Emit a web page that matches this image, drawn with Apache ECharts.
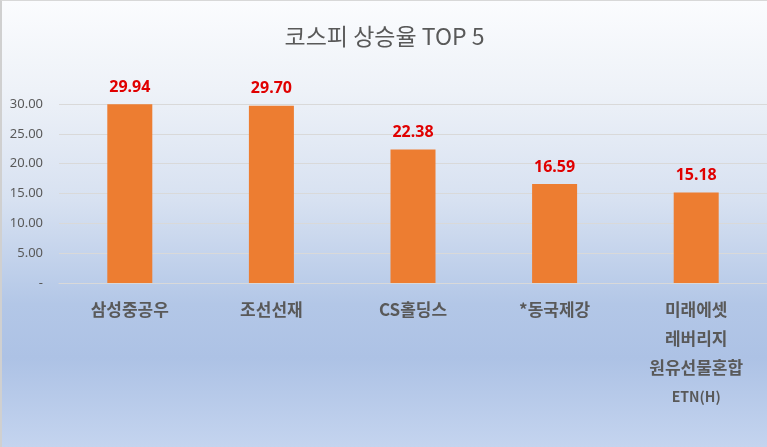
<!DOCTYPE html>
<html><head><meta charset="utf-8">
<script src="https://cdn.jsdelivr.net/npm/echarts@6/dist/echarts.min.js"></script>
<style>
html,body{margin:0;padding:0;width:767px;height:447px;overflow:hidden;}
body{background:linear-gradient(to bottom,#fbfcfe 0%,#eef2f8 20%,#d7e1f1 45%,#b3c7e7 68%,#adc2e5 80%,#c4d4ef 100%);}
#c{width:767px;height:447px;box-sizing:border-box;border-left:2px solid #d0d0d0;border-top:1px solid #d8d8d8;}
</style></head>
<body><div id="c"></div>
<script>
const titleText = '코스피 상승율 TOP 5';
const categories = ['삼성중공우','조선선재','CS홀딩스','*동국제강','미래에셋\n레버리지\n원유선물혼합\n{s|ETN(H)}'];
const values = [29.94, 29.70, 22.38, 16.59, 15.18];
const yTicks = [0,5,10,15,20,25,30];

const chart = echarts.init(document.getElementById('c'), null, {renderer:'canvas'});
chart.setOption({
  animation:false,
  backgroundColor:'transparent',
  title:{text:titleText,left:'center',top:19,textStyle:{fontFamily:'Noto Sans CJK KR',fontSize:23,fontWeight:'normal',color:'#595959'}},
  grid:{left:57,right:0,top:103,bottom:164,containLabel:false},
  xAxis:{type:'category',data:categories,
    axisLine:{show:true,lineStyle:{color:'#d9d9d9',width:1}},axisTick:{show:false},
    axisLabel:{interval:0,margin:12,color:'#595959',fontFamily:'Noto Sans CJK KR',fontSize:17,fontWeight:'bold',lineHeight:29,
      rich:{s:{fontSize:14,fontWeight:'bold',color:'#595959',fontFamily:'Noto Sans CJK KR',lineHeight:29}}}},
  yAxis:{type:'value',min:0,max:30,interval:5,
    axisLine:{show:false},axisTick:{show:false},
    splitLine:{lineStyle:{color:'#d9d9d9',width:1}},
    axisLabel:{margin:16,color:'#595959',fontFamily:'Noto Sans',fontSize:13,
      formatter:function(v){return v===0?'-':v.toFixed(2);}}},
  series:[{type:'bar',data:values,barWidth:45,itemStyle:{color:'#ed7d31'},
    label:{show:true,position:'top',distance:9,color:'#e00000',fontFamily:'Noto Sans',fontSize:16,fontWeight:'bold',
      formatter:function(p){return p.value.toFixed(2);}}}]
});
</script></body></html>
